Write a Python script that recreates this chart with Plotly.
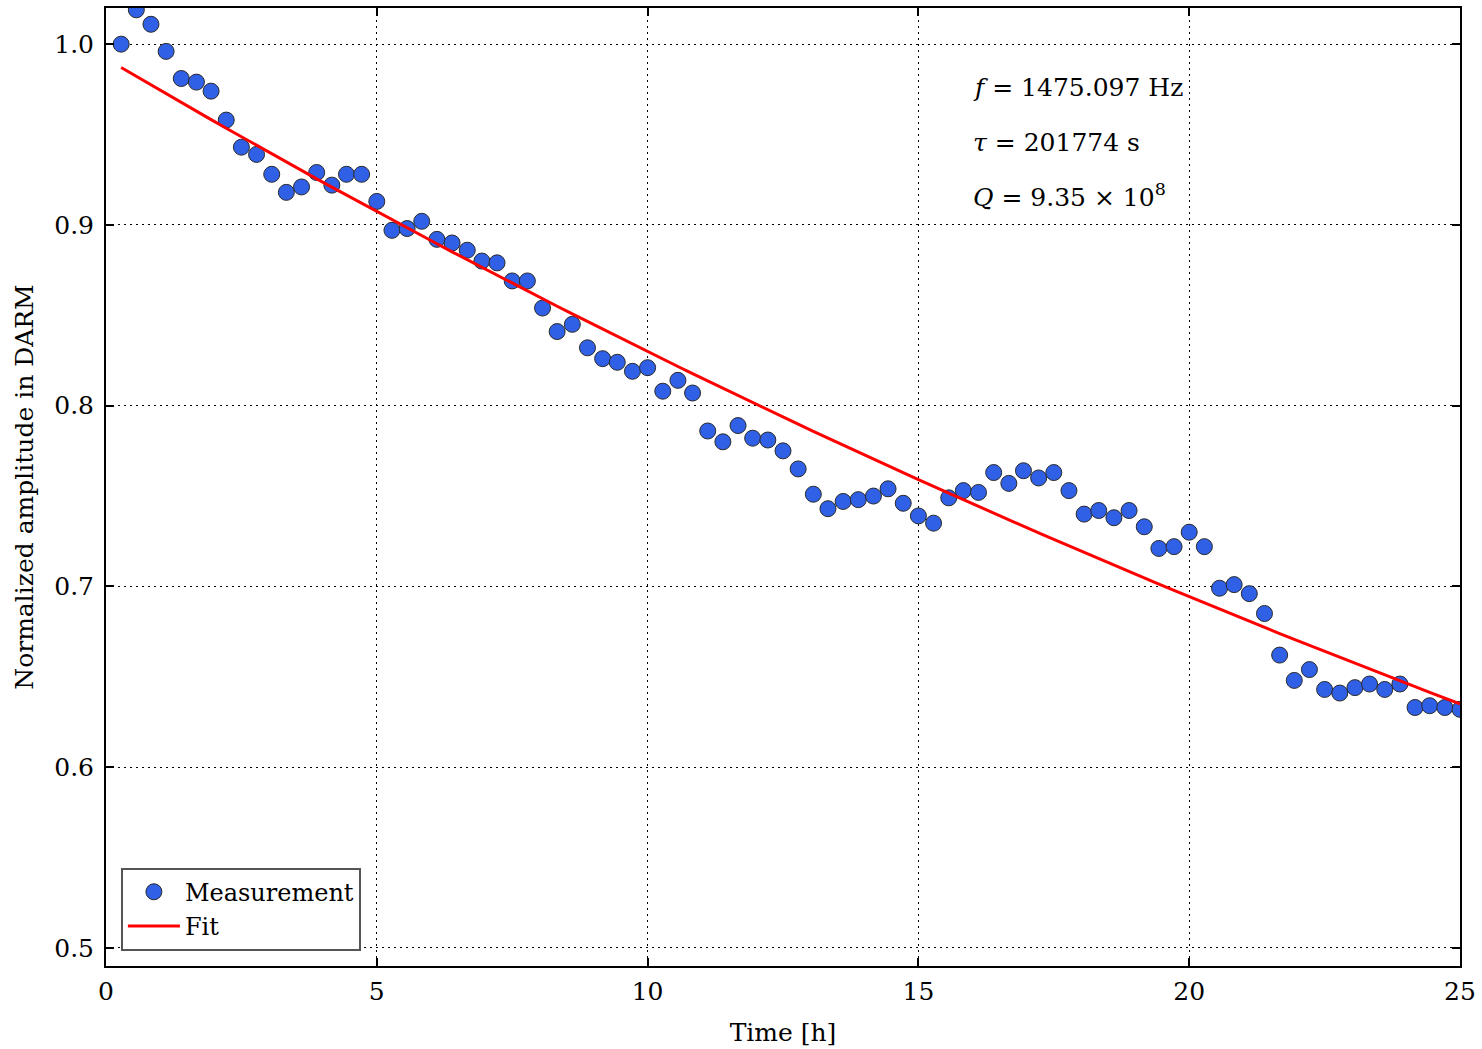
import numpy as np
import plotly.graph_objects as go

# Time of each measurement in hours (one sample every 1000 s)
time_h = [0.28, 0.56, 0.83, 1.11, 1.39, 1.67, 1.94, 2.22, 2.50, 2.78,
          3.06, 3.33, 3.61, 3.89, 4.17, 4.44, 4.72, 5.00, 5.28, 5.56,
          5.83, 6.11, 6.39, 6.67, 6.94, 7.22, 7.50, 7.78, 8.06, 8.33,
          8.61, 8.89, 9.17, 9.44, 9.72, 10.00, 10.28, 10.56, 10.83, 11.11,
          11.39, 11.67, 11.94, 12.22, 12.50, 12.78, 13.06, 13.33, 13.61, 13.89,
          14.17, 14.44, 14.72, 15.00, 15.28, 15.56, 15.83, 16.11, 16.39, 16.67,
          16.94, 17.22, 17.50, 17.78, 18.06, 18.33, 18.61, 18.89, 19.17, 19.44,
          19.72, 20.00, 20.28, 20.56, 20.83, 21.11, 21.39, 21.67, 21.94, 22.22,
          22.50, 22.78, 23.06, 23.33, 23.61, 23.89, 24.17, 24.44, 24.72, 25.00]

amplitude = [1.000, 1.019, 1.011, 0.996, 0.981, 0.979, 0.974, 0.958, 0.943, 0.939,
             0.928, 0.918, 0.921, 0.929, 0.922, 0.928, 0.928, 0.913, 0.897, 0.898,
             0.902, 0.892, 0.890, 0.886, 0.880, 0.879, 0.869, 0.869, 0.854, 0.841,
             0.845, 0.832, 0.826, 0.824, 0.819, 0.821, 0.808, 0.814, 0.807, 0.786,
             0.780, 0.789, 0.782, 0.781, 0.775, 0.765, 0.751, 0.743, 0.747, 0.748,
             0.750, 0.754, 0.746, 0.739, 0.735, 0.749, 0.753, 0.752, 0.763, 0.757,
             0.764, 0.760, 0.763, 0.753, 0.740, 0.742, 0.738, 0.742, 0.733, 0.721,
             0.722, 0.730, 0.722, 0.699, 0.701, 0.696, 0.685, 0.662, 0.648, 0.654,
             0.643, 0.641, 0.644, 0.646, 0.643, 0.646, 0.633, 0.634, 0.633, 0.632]

# Fit parameters (from the annotation)
fit_amplitude0 = 0.992
tau_s = 201774.0
freq_hz = 1475.097
q_text = "9.35 × 10<sup>8</sup>"

x_ticks = [0, 5, 10, 15, 20, 25]
y_ticks = [0.5, 0.6, 0.7, 0.8, 0.9, 1.0]
y_tick_labels = ["0.5", "0.6", "0.7", "0.8", "0.9", "1.0"]

t_arr = np.array(time_h)
fit_vals = fit_amplitude0 * np.exp(-t_arr * 3600.0 / tau_s)

FONT = "DejaVu Serif"
FS = 25

fig = go.Figure()
fig.add_trace(go.Scatter(
    x=time_h, y=amplitude, mode="markers", name="Measurement",
    marker=dict(size=16, color="#3060E6", line=dict(color="#2a2a2a", width=1)),
))
fig.add_trace(go.Scatter(
    x=time_h, y=fit_vals, mode="lines", name="Fit",
    line=dict(color="#FF0000", width=3),
))

axis_common = dict(
    showline=True, linecolor="black", linewidth=2, mirror="ticks",
    ticks="inside", ticklen=8, tickwidth=1.5, tickcolor="black",
    showgrid=True, gridcolor="black", gridwidth=1, griddash="2px,4px",
    zeroline=False,
    tickfont=dict(family=FONT, size=FS, color="black"),
)

fig.update_xaxes(
    range=[0, 25], tickvals=x_ticks, ticktext=[str(v) for v in x_ticks],
    title=dict(text="Time [h]", font=dict(family=FONT, size=FS, color="black"), standoff=18),
    ticklabelstandoff=2,
    **axis_common,
)
fig.update_yaxes(
    range=[0.49, 1.02], tickvals=y_ticks, ticktext=y_tick_labels,
    title=dict(text="Normalized amplitude in DARM", font=dict(family=FONT, size=FS, color="black"), standoff=13),
    ticklabelstandoff=5,
    **axis_common,
)

ann_font = dict(family=FONT, size=FS, color="black")
fig.add_annotation(x=15.97, y=0.9758, xref="x", yref="y", xanchor="left", yanchor="middle",
                   text=f"<i>f</i> = {freq_hz:.3f} Hz", showarrow=False, font=ann_font)
fig.add_annotation(x=15.97, y=0.9458, xref="x", yref="y", xanchor="left", yanchor="middle",
                   text=f"<i>τ</i> = {int(tau_s)} s", showarrow=False, font=ann_font)
fig.add_annotation(x=15.97, y=0.9160, xref="x", yref="y", xanchor="left", yanchor="middle",
                   text=f"<i>Q</i> = {q_text}", showarrow=False, font=ann_font)

fig.update_layout(
    width=1482, height=1049,
    margin=dict(l=106, r=17, t=6, b=83),
    paper_bgcolor="white", plot_bgcolor="white",
    font=dict(family=FONT, size=FS, color="black"),
    showlegend=True,
    legend=dict(
        x=0.011, y=0.016, xanchor="left", yanchor="bottom",
        bgcolor="white", bordercolor="#555555", borderwidth=2,
        font=dict(family=FONT, size=24, color="black"),
        tracegroupgap=0, itemwidth=52,
    ),
)

fig.write_html(
    "out.html",
    config={"displayModeBar": False},
    post_script="document.body.style.margin='0';document.body.style.padding='0';",
)
